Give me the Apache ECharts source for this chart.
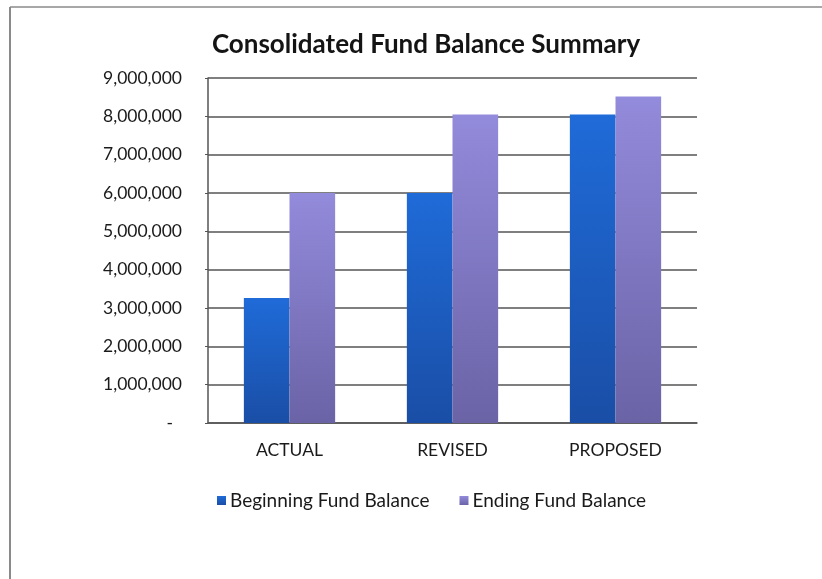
<!DOCTYPE html>
<html>
<head>
<meta charset="utf-8">
<script src="https://cdn.jsdelivr.net/npm/echarts@6/dist/echarts.min.js"></script>
<style>
  html, body { margin: 0; padding: 0; background: #ffffff; }
  #chart { width: 822px; height: 579px; }
</style>
</head>
<body>
<div id="chart"></div>
<script>
// Fund balance figures by budget stage
const categories = ['ACTUAL', 'REVISED', 'PROPOSED'];
const beginningBalance = [3260000, 6000000, 8050000];
const endingBalance = [6000000, 8050000, 8520000];
const seriesNames = ['Beginning Fund Balance', 'Ending Fund Balance'];
const yTicks = { min: 0, max: 9000000, interval: 1000000 };

const font = 'Lato, "Open Sans", sans-serif';

function fmt(v) {
  if (v === 0) return '-  ';
  return v.toLocaleString('en-US');
}

const chart = echarts.init(document.getElementById('chart'), null, { renderer: 'canvas' });
chart.setOption({
  animation: false,
  backgroundColor: '#ffffff',
  title: {
    text: 'Consolidated Fund Balance Summary',
    left: 421,
    top: 27,
    textAlign: 'center',
    textStyle: { fontFamily: font, fontWeight: 'bold', fontSize: 26, color: '#141414' }
  },
  legend: {
    data: seriesNames,
    top: 486,
    left: 212,
    itemWidth: 9,
    itemHeight: 9,
    itemGap: 30,
    icon: 'rect',
    textStyle: { fontFamily: font, fontSize: 19, color: '#1a1a1a', padding: [0, 0, 0, -1] }
  },
  grid: { left: 208, right: 125, top: 78, bottom: 156 },
  xAxis: {
    type: 'category',
    data: categories,
    axisLine: { lineStyle: { color: '#555', width: 1.5 } },
    axisTick: { show: false },
    axisLabel: { fontFamily: font, fontSize: 17.5, color: '#1a1a1a', margin: 18 }
  },
  yAxis: {
    type: 'value',
    min: yTicks.min,
    max: yTicks.max,
    interval: yTicks.interval,
    axisLine: { show: true, lineStyle: { color: '#555', width: 1.5 } },
    axisTick: { show: true, length: 3, lineStyle: { color: '#555' } },
    splitLine: { lineStyle: { color: '#555', width: 1.5 } },
    axisLabel: { fontFamily: font, fontSize: 17.5, color: '#1a1a1a', margin: 26, formatter: fmt }
  },
  series: [
    {
      name: seriesNames[0],
      type: 'bar',
      data: beginningBalance,
      barGap: '0%',
      barCategoryGap: '44%',
      itemStyle: {
        color: new echarts.graphic.LinearGradient(0, 0, 0, 1, [
          { offset: 0, color: '#1f6bd8' },
          { offset: 1, color: '#1a4ea6' }
        ])
      }
    },
    {
      name: seriesNames[1],
      type: 'bar',
      data: endingBalance,
      barGap: '0%',
      barCategoryGap: '44%',
      itemStyle: {
        color: new echarts.graphic.LinearGradient(0, 0, 0, 1, [
          { offset: 0, color: '#938bdb' },
          { offset: 1, color: '#6a63a6' }
        ])
      }
    }
  ],
  graphic: [
    { type: 'line', shape: { x1: 10, y1: 7, x2: 10, y2: 579 }, style: { stroke: '#8a8a8a', lineWidth: 2 } },
    { type: 'line', shape: { x1: 10, y1: 7, x2: 822, y2: 7 }, style: { stroke: '#8a8a8a', lineWidth: 1.5 } }
  ]
});
</script>
</body>
</html>
